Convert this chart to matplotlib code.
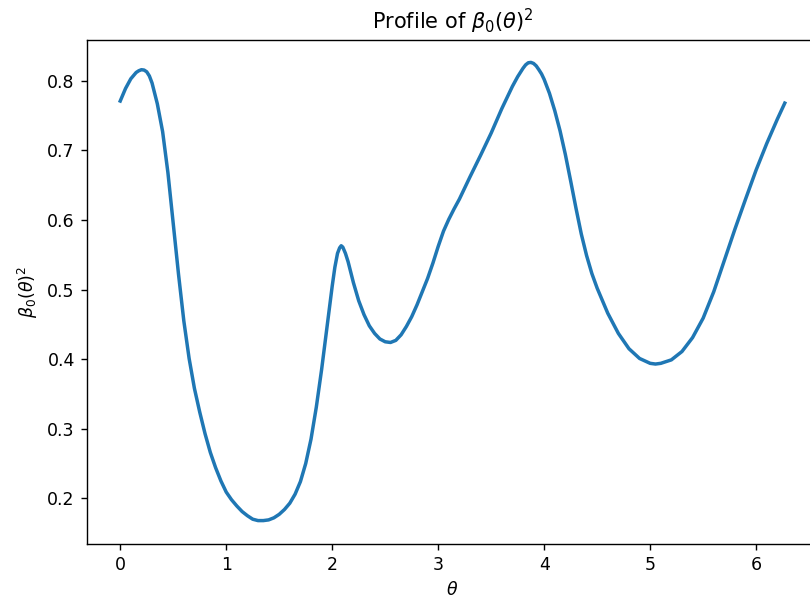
import numpy as np
import matplotlib
matplotlib.use("Agg")
import matplotlib.pyplot as plt

# sampled profile of beta_0(theta)^2 over one turn
theta = [0.00, 0.05, 0.10, 0.15, 0.175, 0.20, 0.225, 0.25, 0.275, 0.30,
         0.35, 0.40, 0.45, 0.50, 0.55, 0.60, 0.65, 0.70, 0.75, 0.80,
         0.85, 0.90, 0.95, 1.00, 1.05, 1.10, 1.15, 1.20, 1.25, 1.30,
         1.35, 1.40, 1.45, 1.50, 1.55, 1.60, 1.65, 1.70, 1.75, 1.80,
         1.85, 1.90, 1.95, 2.00, 2.025, 2.05, 2.07, 2.085, 2.10, 2.125,
         2.15, 2.20, 2.25, 2.30, 2.35, 2.40, 2.45, 2.50, 2.55, 2.60,
         2.65, 2.70, 2.75, 2.80, 2.85, 2.90, 2.95, 3.00, 3.05, 3.10,
         3.15, 3.20, 3.30, 3.40, 3.50, 3.60, 3.70, 3.75, 3.80, 3.825,
         3.85, 3.875, 3.90, 3.925, 3.95, 3.975, 4.00, 4.05, 4.10, 4.15,
         4.20, 4.25, 4.30, 4.35, 4.40, 4.45, 4.50, 4.55, 4.60, 4.70,
         4.80, 4.90, 5.00, 5.05, 5.10, 5.20, 5.30, 5.40, 5.50, 5.60,
         5.70, 5.80, 5.90, 6.00, 6.10, 6.20, 6.27]
beta_sq = [0.771, 0.789, 0.803, 0.812, 0.8145, 0.816, 0.8155, 0.813, 0.807, 0.797,
           0.767, 0.727, 0.668, 0.595, 0.522, 0.455, 0.401, 0.358, 0.324, 0.293,
           0.266, 0.244, 0.225, 0.209, 0.198, 0.189, 0.181, 0.175, 0.170, 0.168,
           0.168, 0.169, 0.172, 0.177, 0.184, 0.193, 0.206, 0.224, 0.250, 0.285,
           0.331, 0.385, 0.445, 0.505, 0.532, 0.552, 0.560, 0.563, 0.561, 0.552,
           0.540, 0.510, 0.484, 0.464, 0.448, 0.437, 0.429, 0.425, 0.424, 0.427,
           0.435, 0.447, 0.461, 0.478, 0.497, 0.516, 0.538, 0.562, 0.584, 0.601,
           0.616, 0.630, 0.662, 0.693, 0.725, 0.760, 0.792, 0.806, 0.818, 0.823,
           0.826, 0.8265, 0.825, 0.8215, 0.816, 0.810, 0.802, 0.782, 0.757, 0.728,
           0.694, 0.656, 0.617, 0.580, 0.549, 0.523, 0.502, 0.484, 0.466, 0.437,
           0.415, 0.401, 0.394, 0.393, 0.394, 0.399, 0.411, 0.431, 0.459, 0.497,
           0.542, 0.587, 0.630, 0.672, 0.710, 0.745, 0.768]

fig = plt.figure(figsize=(6.48, 4.784), dpi=125)
ax = fig.add_axes([87 / 810, 1 - 543.5 / 598, 731 / 810, (543.5 - 39.5) / 598])
ax.plot(theta, beta_sq, color="#1f77b4", linewidth=2)

ax.set_title(r"Profile of $\beta_0(\theta)^2$")
ax.set_xlabel(r"$\theta$")
ax.set_ylabel(r"$\beta_0(\theta)^2$")

fig.savefig("out.png", dpi=125)
